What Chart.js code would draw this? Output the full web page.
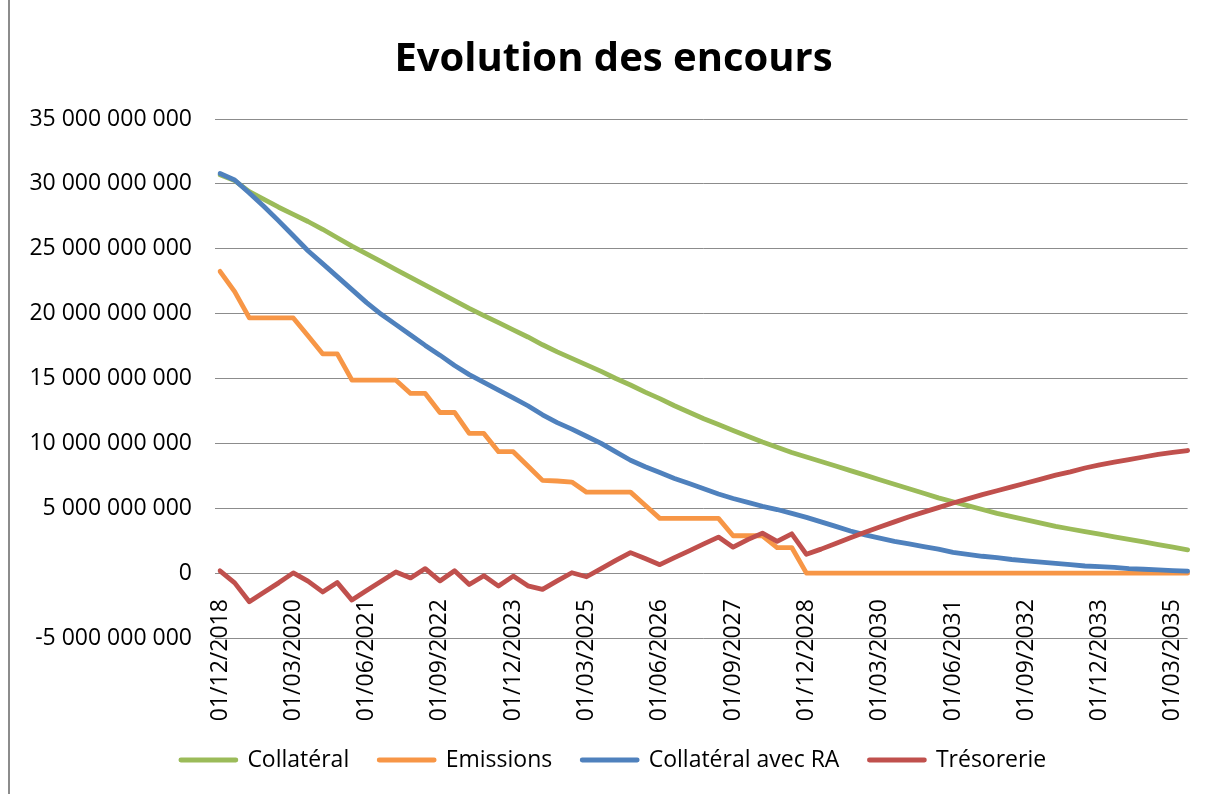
<!DOCTYPE html>
<html lang="fr">
<head>
<meta charset="utf-8">
<title>Evolution des encours</title>
<script src="https://cdn.jsdelivr.net/npm/chart.js@4.4.1/dist/chart.umd.min.js"></script>
<style>
  html, body { margin: 0; padding: 0; background: #fff; }
  #wrap { position: relative; width: 1214px; height: 794px; overflow: hidden; }
  #frame { position: absolute; left: 8px; top: 0; width: 1.5px; height: 794px; background: #8c8c8c; }
  canvas { position: absolute; left: 0; top: 0; }
</style>
</head>
<body>
<div id="wrap">
  <canvas id="chart" width="1214" height="794"></canvas>
  <div id="frame"></div>
</div>
<script>
// quarterly dates, one label shown every 5 quarters
const dates = [
    '01/12/2018',
    '01/03/2019', '01/06/2019', '01/09/2019', '01/12/2019',
    '01/03/2020', '01/06/2020', '01/09/2020', '01/12/2020',
    '01/03/2021', '01/06/2021', '01/09/2021', '01/12/2021',
    '01/03/2022', '01/06/2022', '01/09/2022', '01/12/2022',
    '01/03/2023', '01/06/2023', '01/09/2023', '01/12/2023',
    '01/03/2024', '01/06/2024', '01/09/2024', '01/12/2024',
    '01/03/2025', '01/06/2025', '01/09/2025', '01/12/2025',
    '01/03/2026', '01/06/2026', '01/09/2026', '01/12/2026',
    '01/03/2027', '01/06/2027', '01/09/2027', '01/12/2027',
    '01/03/2028', '01/06/2028', '01/09/2028', '01/12/2028',
    '01/03/2029', '01/06/2029', '01/09/2029', '01/12/2029',
    '01/03/2030', '01/06/2030', '01/09/2030', '01/12/2030',
    '01/03/2031', '01/06/2031', '01/09/2031', '01/12/2031',
    '01/03/2032', '01/06/2032', '01/09/2032', '01/12/2032',
    '01/03/2033', '01/06/2033', '01/09/2033', '01/12/2033',
    '01/03/2034', '01/06/2034', '01/09/2034', '01/12/2034',
    '01/03/2035', '01/06/2035'
]
const labelEvery = 5

// values in milliards
const collateral = [
    30.7, 30.25, 29.4, 28.8, 28.2, 27.65, 27.1, 26.5, 25.85, 25.2,
    24.6, 24.0, 23.4, 22.8, 22.2, 21.6, 21.0, 20.4, 19.85, 19.3,
    18.75, 18.2, 17.6, 17.05, 16.55, 16.05, 15.55, 15.0, 14.5, 13.95,
    13.45, 12.9, 12.4, 11.9, 11.45, 11.0, 10.55, 10.1, 9.7, 9.3,
    8.95, 8.6, 8.25, 7.9, 7.55, 7.2, 6.85, 6.5, 6.15, 5.8,
    5.5, 5.2, 4.9, 4.6, 4.35, 4.1, 3.85, 3.6, 3.4, 3.2,
    3.0, 2.8, 2.6, 2.4, 2.2, 2.0, 1.8
]
const emissions = [
    23.26, 21.7, 19.67, 19.67, 19.67, 19.67, 18.3, 16.9, 16.9, 14.87,
    14.87, 14.87, 14.87, 13.85, 13.85, 12.38, 12.38, 10.77, 10.77, 9.36,
    9.36, 8.25, 7.15, 7.1, 7.02, 6.24, 6.24, 6.24, 6.24, 5.23,
    4.22, 4.22, 4.22, 4.22, 4.22, 2.88, 2.88, 2.88, 1.97, 1.97,
    0, 0, 0, 0, 0, 0, 0, 0, 0, 0,
    0, 0, 0, 0, 0, 0, 0, 0, 0, 0,
    0, 0, 0, 0, 0, 0, 0
]
const collateralRA = [
    30.8, 30.3, 29.3, 28.25, 27.15, 26.0, 24.85, 23.85, 22.85, 21.85,
    20.85, 19.95, 19.15, 18.35, 17.55, 16.8, 16.0, 15.3, 14.7, 14.1,
    13.5, 12.9, 12.2, 11.6, 11.1, 10.55, 10.0, 9.35, 8.7, 8.2,
    7.75, 7.3, 6.9, 6.5, 6.1, 5.75, 5.45, 5.15, 4.9, 4.6,
    4.3, 3.95, 3.6, 3.25, 2.95, 2.7, 2.45, 2.25, 2.05, 1.85,
    1.6, 1.45, 1.3, 1.2, 1.05, 0.95, 0.85, 0.75, 0.65, 0.55,
    0.5, 0.45, 0.35, 0.3, 0.25, 0.2, 0.15
]
const tresorerie = [
    0.18, -0.75, -2.2, -1.47, -0.75, 0.02, -0.62, -1.45, -0.73, -2.08,
    -1.34, -0.63, 0.09, -0.37, 0.35, -0.6, 0.18, -0.88, -0.2, -1.0,
    -0.23, -0.98, -1.25, -0.6, 0.03, -0.28, 0.35, 0.98, 1.58, 1.12,
    0.65, 1.2, 1.72, 2.25, 2.78, 2.0, 2.58, 3.08, 2.45, 3.03,
    1.45, 1.85, 2.28, 2.72, 3.15, 3.55, 3.95, 4.35, 4.7, 5.05,
    5.4, 5.72, 6.05, 6.35, 6.65, 6.95, 7.25, 7.55, 7.8, 8.1,
    8.35, 8.55, 8.75, 8.95, 9.15, 9.3, 9.45
]

const formatAmount = v => String(Math.round(v * 1e9)).replace(/\B(?=(\d{3})+(?!\d))/g, ' ')

Chart.defaults.font.family = '"Open Sans", "Noto Sans", sans-serif'
Chart.defaults.font.size = 23
Chart.defaults.color = '#000'

const serie = (label, data, color, order) => ({
    label: label,
    data: data,
    borderColor: color,
    backgroundColor: color,
    order: order
})

// empty axes that only reserve room (bottom for the date labels, right margin)
const spacer = (axis, position, size) => ({
    axis: axis,
    type: axis === 'x' ? 'category' : 'linear',
    position: position,
    display: true,
    ticks: { display: false },
    grid: { display: false, drawTicks: false },
    border: { display: false },
    afterFit: scale => {
        if (axis === 'x') scale.height = size
        else scale.width = size
    }
})

new Chart(document.getElementById('chart'), {
    type: 'line',
    data: {
        labels: dates,
        datasets: [
            serie('Collatéral', collateral, '#9bbb59', 3),
            serie('Emissions', emissions, '#f79646', 2),
            serie('Collatéral avec RA', collateralRA, '#4f81bd', 1),
            serie('Trésorerie', tresorerie, '#c0504d', 0)
        ]
    },
    options: {
        responsive: false,
        animation: false,
        layout: { padding: { left: 13, right: 0, top: 0, bottom: 12.5 } },
        elements: {
            point: { radius: 0 },
            line: { borderWidth: 4.8, tension: 0, borderCapStyle: 'round', borderJoinStyle: 'round' }
        },
        plugins: {
            title: {
                display: true,
                text: 'Evolution des encours',
                font: { size: 40, weight: 'bold' },
                padding: { top: 36, bottom: 35 }
            },
            legend: {
                position: 'bottom',
                labels: {
                    boxWidth: 55,
                    boxHeight: 0,
                    padding: 30,
                    sort: (a, b) => a.datasetIndex - b.datasetIndex
                }
            },
            tooltip: { enabled: false }
        },
        scales: {
            x: {
                position: { y: 0 },
                offset: false,
                grid: { display: false },
                border: { display: false },
                ticks: {
                    autoSkip: false,
                    maxRotation: 90,
                    minRotation: 90,
                    padding: 18,
                    callback: (v, i) => i % labelEvery === 0 ? dates[i] : ''
                },
                // the dates hang inside the plot, they need no side margin
                afterFit: scale => {
                    scale.paddingLeft = 0
                    scale.paddingRight = 0
                }
            },
            y: {
                min: -5,
                max: 35,
                ticks: { stepSize: 5, padding: 23, callback: v => formatAmount(v) },
                grid: { color: '#8c8c8c', lineWidth: 1, tickLength: 5 },
                border: { display: false },
                afterFit: scale => { scale.width = 207 }
            },
            xRoom: spacer('x', 'bottom', 80.5),
            yRoom: spacer('y', 'right', 26.4)
        }
    }
})
</script>
</body>
</html>
